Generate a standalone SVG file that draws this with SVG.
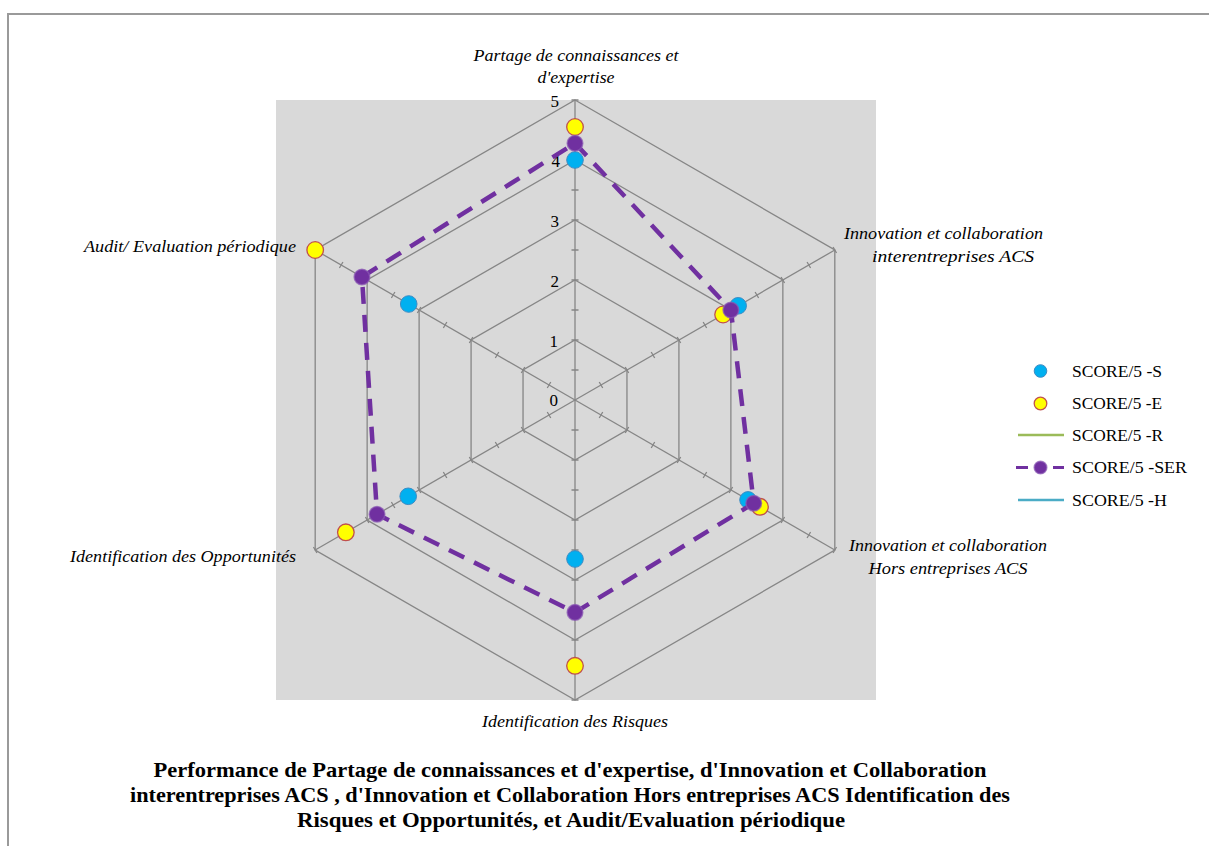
<svg xmlns="http://www.w3.org/2000/svg" xmlns:xlink="http://www.w3.org/1999/xlink" width="1209" height="846" viewBox="0 0 1209 846">
  <style>
    .frame { stroke: #9a9a9a; stroke-width: 2; fill: none; }
    .grid { stroke: #868686; stroke-width: 1.3; fill: none; }
    .axis-label { font-family: "Liberation Serif", "Times New Roman", serif; font-style: italic; font-size: 17px; fill: #000; }
    .num { font-family: "Liberation Serif", "Times New Roman", serif; font-size: 17px; fill: #000; text-anchor: end; }
    .legend { font-family: "Liberation Serif", "Times New Roman", serif; font-size: 17px; fill: #000; }
    .title { font-family: "Liberation Serif", "Times New Roman", serif; font-weight: bold; font-size: 21.5px; fill: #000; text-anchor: middle; }
    .ptS { fill: #00B0F0; stroke: #3D8CC4; stroke-width: 1; }
    .ptE { fill: #FFFF00; stroke: #C0504D; stroke-width: 1.3; }
    .ptSER { fill: #7030A0; stroke: #8A58B4; stroke-width: 1.5; stroke-opacity: 0.7; }
    .lineSER { stroke: #7030A0; stroke-width: 4.5; fill: none; stroke-dasharray: 17 11; }
  </style>
  <defs>
    <!-- one radial axis with half-unit tick marks; rotated for the six directions -->
    <g id="spoke" class="grid">
      <line x1="0" y1="0" x2="0" y2="-300"/>
      <path d="M-3.5,-30H3.5M-3.5,-60H3.5M-3.5,-90H3.5M-3.5,-120H3.5M-3.5,-150H3.5M-3.5,-180H3.5M-3.5,-210H3.5M-3.5,-240H3.5M-3.5,-270H3.5M-3.5,-300H3.5"/>
    </g>
  </defs>

  <rect x="0" y="0" width="1209" height="846" fill="#ffffff"/>
  <path class="frame" d="M8,846V14H1209"/>

  <!-- plot area -->
  <rect x="276" y="100" width="600" height="600" fill="#D9D9D9"/>

  <!-- hexagonal grid -->
  <g id="grid" class="grid">
    <polygon points="575,340 626.96,370 626.96,430 575,460 523.04,430 523.04,370"/>
    <polygon points="575,280 678.92,340 678.92,460 575,520 471.08,460 471.08,340"/>
    <polygon points="575,220 730.88,310 730.88,490 575,580 419.12,490 419.12,310"/>
    <polygon points="575,160 782.85,280 782.85,520 575,640 367.15,520 367.15,280"/>
    <polygon points="575,100 834.81,250 834.81,550 575,700 315.19,550 315.19,250"/>
    <use xlink:href="#spoke" transform="translate(575,400)"/>
    <use xlink:href="#spoke" transform="translate(575,400) rotate(60)"/>
    <use xlink:href="#spoke" transform="translate(575,400) rotate(120)"/>
    <use xlink:href="#spoke" transform="translate(575,400) rotate(180)"/>
    <use xlink:href="#spoke" transform="translate(575,400) rotate(240)"/>
    <use xlink:href="#spoke" transform="translate(575,400) rotate(300)"/>
  </g>

  <!-- scale values -->
  <g id="scale">
    <text class="num" x="559" y="107">5</text>
    <text class="num" x="560" y="167">4</text>
    <text class="num" x="559" y="227">3</text>
    <text class="num" x="559" y="287">2</text>
    <text class="num" x="558" y="347">1</text>
    <text class="num" x="558" y="406">0</text>
  </g>

  <!-- category labels -->
  <g id="label-partage">
    <text class="axis-label" x="576" y="61" text-anchor="middle" textLength="205" lengthAdjust="spacingAndGlyphs">Partage de connaissances et</text>
    <text class="axis-label" x="576" y="83" text-anchor="middle" textLength="77" lengthAdjust="spacingAndGlyphs">d'expertise</text>
  </g>
  <g id="label-innov-inter">
    <text class="axis-label" x="943.5" y="239" text-anchor="middle" textLength="199" lengthAdjust="spacingAndGlyphs">Innovation et collaboration</text>
    <text class="axis-label" x="953" y="262" text-anchor="middle" textLength="162" lengthAdjust="spacingAndGlyphs">interentreprises ACS</text>
  </g>
  <g id="label-innov-hors">
    <text class="axis-label" x="948" y="551" text-anchor="middle" textLength="198" lengthAdjust="spacingAndGlyphs">Innovation et collaboration</text>
    <text class="axis-label" x="948" y="574" text-anchor="middle" textLength="159" lengthAdjust="spacingAndGlyphs">Hors entreprises ACS</text>
  </g>
  <g id="label-risques">
    <text class="axis-label" x="575" y="727" text-anchor="middle" textLength="186" lengthAdjust="spacingAndGlyphs">Identification des Risques</text>
  </g>
  <g id="label-opportunites">
    <text class="axis-label" x="296" y="562" text-anchor="end" textLength="226" lengthAdjust="spacingAndGlyphs">Identification des Opportunités</text>
  </g>
  <g id="label-audit">
    <text class="axis-label" x="296" y="252" text-anchor="end" textLength="212" lengthAdjust="spacingAndGlyphs">Audit/ Evaluation périodique</text>
  </g>

  <!-- series S -->
  <g id="series-S">
    <circle class="ptS" cx="575" cy="160" r="8.3"/>
    <circle class="ptS" cx="738.16" cy="305.8" r="8.3"/>
    <circle class="ptS" cx="748.03" cy="499.9" r="8.3"/>
    <circle class="ptS" cx="575" cy="559" r="8.3"/>
    <circle class="ptS" cx="408.2" cy="496.3" r="8.3"/>
    <circle class="ptS" cx="408.72" cy="304" r="8.3"/>
  </g>

  <!-- series E -->
  <g id="series-E">
    <circle class="ptE" cx="575" cy="127" r="8.3"/>
    <circle class="ptE" cx="723.09" cy="314.5" r="8.3"/>
    <circle class="ptE" cx="759.98" cy="506.8" r="8.3"/>
    <circle class="ptE" cx="575" cy="665.8" r="8.3"/>
    <circle class="ptE" cx="345.85" cy="532.3" r="8.3"/>
    <circle class="ptE" cx="315.19" cy="250" r="8.3"/>
  </g>

  <!-- series SER -->
  <g id="connectors">
    <polygon class="lineSER" points="575,143.2 730.88,310 753.75,503.2 575,612.4 377.03,514.3 361.96,277"/>
  </g>
  <g id="series-SER">
    <circle class="ptSER" cx="575" cy="143.2" r="7.8"/>
    <circle class="ptSER" cx="730.88" cy="310" r="7.8"/>
    <circle class="ptSER" cx="753.75" cy="503.2" r="7.8"/>
    <circle class="ptSER" cx="575" cy="612.4" r="7.8"/>
    <circle class="ptSER" cx="377.03" cy="514.3" r="7.8"/>
    <circle class="ptSER" cx="361.96" cy="277" r="7.8"/>
  </g>

  <!-- legend -->
  <g id="legend">
    <circle class="ptS" cx="1040.5" cy="371" r="6.3"/>
    <text class="legend" x="1072" y="377" textLength="90" lengthAdjust="spacingAndGlyphs">SCORE/5 -S</text>
    <circle class="ptE" cx="1040.5" cy="403.5" r="6.3"/>
    <text class="legend" x="1072" y="409" textLength="90" lengthAdjust="spacingAndGlyphs">SCORE/5 -E</text>
    <line x1="1018" y1="435" x2="1064" y2="435" stroke="#9BBB59" stroke-width="2.5"/>
    <text class="legend" x="1072" y="441" textLength="91" lengthAdjust="spacingAndGlyphs">SCORE/5 -R</text>
    <path d="M1016,467.5H1028M1053,467.5H1064" stroke="#7030A0" stroke-width="3"/>
    <circle class="ptSER" cx="1040.5" cy="467.5" r="6.3"/>
    <text class="legend" x="1072" y="473" textLength="115" lengthAdjust="spacingAndGlyphs">SCORE/5 -SER</text>
    <line x1="1018" y1="500" x2="1064" y2="500" stroke="#4BACC6" stroke-width="2.5"/>
    <text class="legend" x="1072" y="506" textLength="95" lengthAdjust="spacingAndGlyphs">SCORE/5 -H</text>
  </g>

  <!-- chart title -->
  <g id="title">
    <text class="title" x="570" y="777" textLength="833" lengthAdjust="spacingAndGlyphs">Performance de Partage de connaissances et d'expertise, d'Innovation et Collaboration</text>
    <text class="title" x="570" y="802" textLength="880" lengthAdjust="spacingAndGlyphs">interentreprises ACS , d'Innovation et Collaboration Hors entreprises ACS Identification des</text>
    <text class="title" x="571" y="827" textLength="548" lengthAdjust="spacingAndGlyphs">Risques et Opportunités, et Audit/Evaluation périodique</text>
  </g>
</svg>
